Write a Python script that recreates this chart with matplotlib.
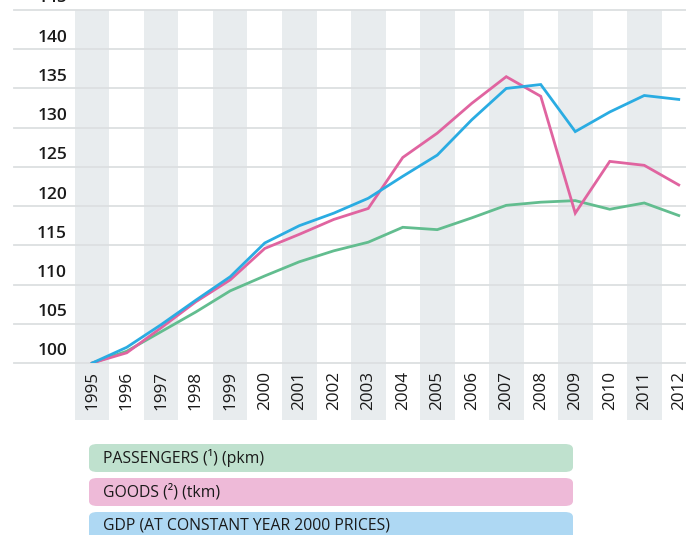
import numpy as np
import matplotlib
matplotlib.use("Agg")
import matplotlib.pyplot as plt
from matplotlib.patches import Rectangle, FancyBboxPatch
import matplotlib.transforms as mtransforms

plt.rcParams['font.family'] = ['Open Sans', 'DejaVu Sans']

years = list(range(1995, 2013))
passengers = [100, 101.5, 104.0, 106.5, 109.2, 111.1, 112.9, 114.3, 115.4, 117.3,
              117.0, 118.5, 120.1, 120.5, 120.7, 119.6, 120.4, 118.8]
goods = [100, 101.3, 104.5, 107.8, 110.6, 114.6, 116.4, 118.3, 119.7, 126.2,
         129.3, 133.1, 136.5, 134.0, 119.1, 125.7, 125.2, 122.7]
gdp = [100, 102.0, 104.9, 108.0, 111.0, 115.3, 117.5, 119.1, 121.0, 123.8,
       126.5, 131.0, 135.0, 135.5, 129.5, 132.0, 134.1, 133.6]
yticks = [100, 105, 110, 115, 120, 125, 130, 135, 140, 145]

legend_labels = ['PASSENGERS (¹) (pkm)', 'GOODS (²) (tkm)', 'GDP (AT CONSTANT YEAR 2000 PRICES)']
line_colors = ['#62BD8F', '#E064A0', '#2AACE2']
fill_colors = ['#BFE1CE', '#EEBAD8', '#AED8F3']

W, H = 686, 535
fig = plt.figure(figsize=(W / 100, H / 100), dpi=100)
ax = fig.add_axes([75 / W, 1 - 363 / H, 611 / W, 353 / H])
ax.set_xlim(1994.5, 1994.5 + 611 / 34.5)
ax.set_ylim(100, 145)
ax.axis('off')

# grey bands for alternate years, running down behind the year labels
trans = ax.get_xaxis_transform()
for yr in years[::2]:
    ax.add_patch(Rectangle((yr - 0.5, -0.162), 1.0, 1.162, transform=trans,
                           facecolor='#E8ECEE', edgecolor='none', clip_on=False, zorder=0))

# gridlines extending left under the tick labels
gtrans = mtransforms.blended_transform_factory(ax.transAxes, ax.transData)
for v in yticks:
    ax.plot([-61 / 611, 1], [v, v], color='#DCDFE1', lw=1.3, transform=gtrans,
            clip_on=False, zorder=1)
    ax.text(-8 / 611, v + 0.45, str(v), transform=gtrans, ha='right', va='bottom',
            fontsize=12.5, fontweight='semibold', color='#1a1a1a', clip_on=False)

for yr in years:
    ax.text(yr, 99, str(yr), ha='center', va='top', rotation=90,
            fontsize=12.3, color='#1a1a1a')

ax.plot(years, passengers, color=line_colors[0], lw=2, zorder=3, solid_joinstyle='miter')
ax.plot(years, goods, color=line_colors[1], lw=2, zorder=4, solid_joinstyle='miter')
ax.plot(years, gdp, color=line_colors[2], lw=2, zorder=5, solid_joinstyle='miter')

# legend as rounded bars
tops = [444, 478, 512]
for lab, fc, top in zip(legend_labels, fill_colors, tops):
    x0, y0 = 89 / W, 1 - (top + 28) / H
    fig.patches.append(FancyBboxPatch((x0, y0), 484 / W, 28 / H,
                                      boxstyle='round,pad=0,rounding_size=0.012',
                                      transform=fig.transFigure, facecolor=fc,
                                      edgecolor='none', mutation_aspect=H / W))
    fig.text(103 / W, 1 - (top + 14) / H, lab, ha='left', va='center',
             fontsize=11.3, color='#1a1a1a')

fig.savefig('out.png', dpi=100)
